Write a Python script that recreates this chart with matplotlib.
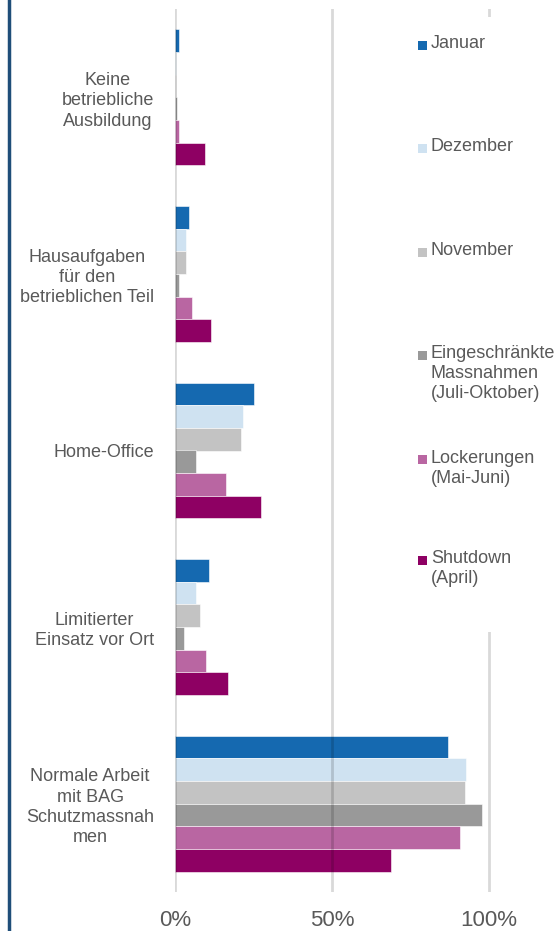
import matplotlib.pyplot as plt
import numpy as np
from matplotlib.patches import Rectangle
from matplotlib.lines import Line2D

plt.rcParams["font.family"] = ["Liberation Sans", "DejaVu Sans"]

categories = [
    "Keine\nbetriebliche\nAusbildung",
    "Hausaufgaben\nfür den\nbetrieblichen Teil",
    "Home-Office",
    "Limitierter\nEinsatz vor Ort",
    "Normale Arbeit\nmit BAG\nSchutzmassnah\nmen",
]
series = [
    "Januar",
    "Dezember",
    "November",
    "Eingeschränkte\nMassnahmen\n(Juli-Oktober)",
    "Lockerungen\n(Mai-Juni)",
    "Shutdown\n(April)",
]
colors = ["#1569B0", "#CFE2F1", "#C3C3C3", "#999999", "#B966A2", "#8E0063"]

januar = [1.4, 4.3, 25.0, 10.8, 87.0]
dezember = [0.4, 3.5, 21.8, 6.7, 92.6]
november = [0.4, 3.5, 21.0, 7.9, 92.3]
eingeschraenkt = [0.5, 1.3, 6.8, 2.9, 97.6]
lockerungen = [1.4, 5.4, 16.1, 9.8, 90.7]
shutdown = [9.7, 11.4, 27.5, 16.8, 68.6]
values = [januar, dezember, november, eingeschraenkt, lockerungen, shutdown]

W, H = 560, 931
fig = plt.figure(figsize=(W / 100, H / 100), dpi=100)
ax = fig.add_axes([175 / W, (H - 892) / H, 377 / W, 883 / H])

n = len(series)
h = 0.77 / n
y = np.arange(len(categories))
for i, (vals, c) in enumerate(zip(values, colors)):
    ax.barh(y - 0.385 + h * (i + 0.5), vals, height=h, color=c,
            edgecolor="white", linewidth=0.4, zorder=2)

ax.set_xlim(0, 120)
ax.set_ylim(len(categories) - 0.5, -0.5)
ax.set_xticks([0, 50, 100])
ax.set_xticklabels(["0%", "50%", "100%"], fontsize=16, color="#595959")
ax.set_yticks(y)
ax.set_yticklabels(categories, fontsize=13, color="#595959",
                   multialignment="center", linespacing=1.25)
ax.tick_params(length=0)
ax.tick_params(axis="x", pad=13)
ax.tick_params(axis="y", pad=15)
for s in ax.spines.values():
    s.set_visible(False)
for xv in [0, 50, 100]:
    ax.axvline(xv, color="black", alpha=0.15, lw=2, zorder=3)

# legend box covering the right part of the plot
fig.add_artist(Rectangle((410 / W, 1 - 632 / H), 148 / W, 615 / H,
                         transform=fig.transFigure, facecolor="white",
                         edgecolor="none", zorder=4))
leg_y = [45, 148, 252, 355, 460, 560]
for lab, c, ly in zip(series, colors, leg_y):
    fig.add_artist(Rectangle((418 / W, 1 - (ly + 4.5) / H), 9 / W, 9 / H,
                             transform=fig.transFigure, facecolor=c,
                             edgecolor="none", zorder=5))
    fig.text(431 / W, 1 - (ly - 10) / H, lab, fontsize=13, color="#595959",
             va="top", ha="left", linespacing=1.25, zorder=5)

fig.add_artist(Line2D([9 / W, 9 / W], [0, 1], transform=fig.transFigure,
                      color="#1F4E79", lw=2.5))

fig.savefig("out.png", dpi=100)
